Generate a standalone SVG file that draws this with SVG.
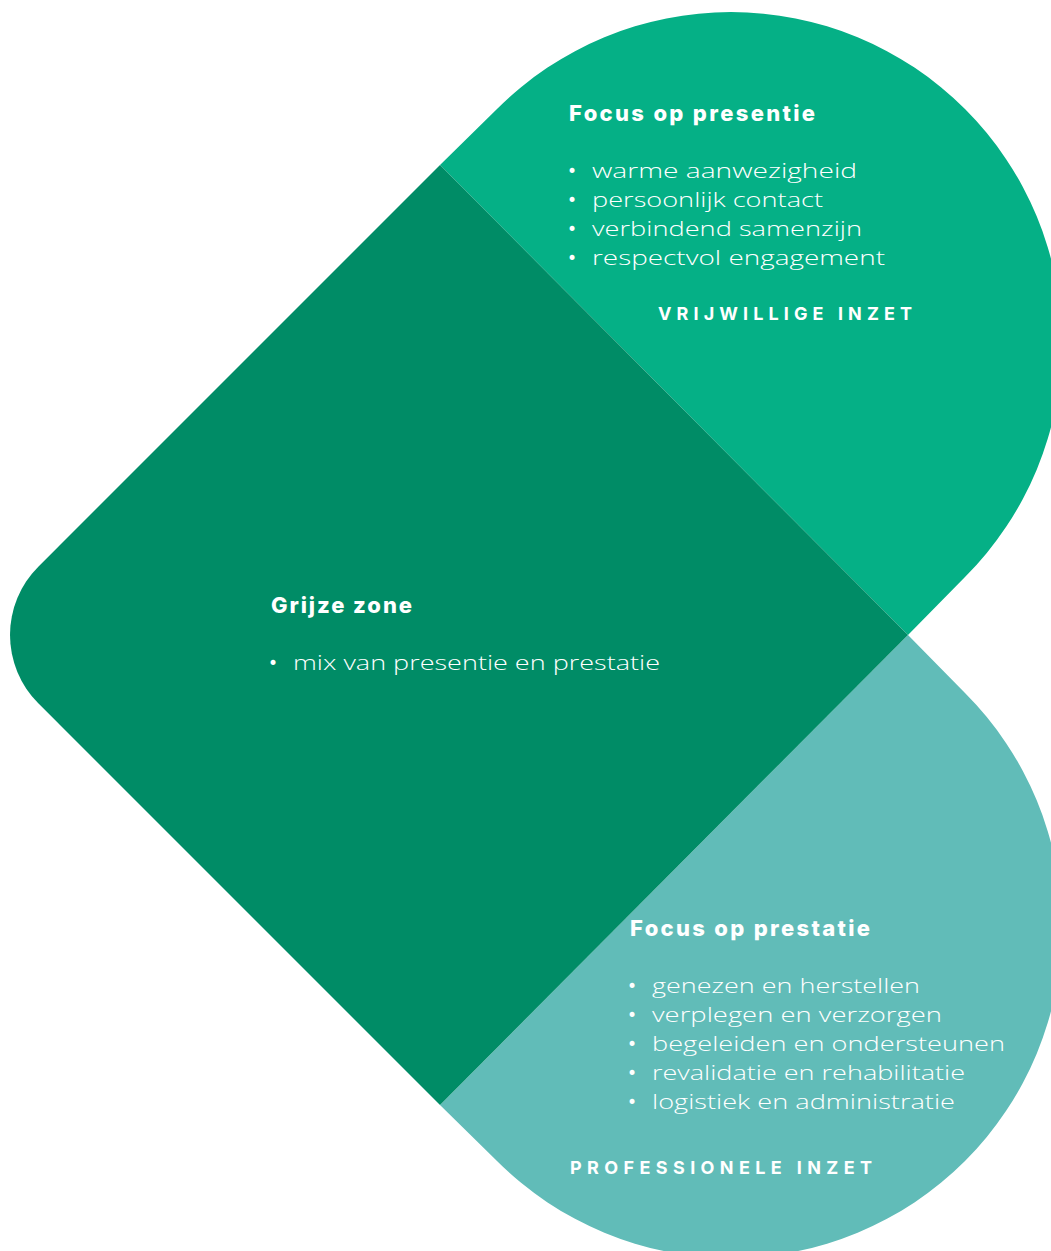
<svg xmlns="http://www.w3.org/2000/svg" width="1051" height="1251" viewBox="0 0 1051 1251">
<style>
text{font-variant-ligatures:none}
.h{font-family:Inter,"Liberation Sans",sans-serif;font-weight:800;font-size:22px;fill:#ffffff}
.b{font-family:"Open Sans","Liberation Sans",sans-serif;font-weight:300;font-size:21px;fill:#ffffff}
.c{font-family:Inter,"Liberation Sans",sans-serif;font-weight:700;font-size:18px;fill:#ffffff;letter-spacing:4px}
.dot{font-family:"DejaVu Sans",sans-serif;font-size:17px;fill:#ffffff}
</style>
<rect width="1051" height="1251" fill="#ffffff"/>
<g id="lobe-vrijwillig">
<path d="M440,165 L497,109 A331,331 0 0 1 965,109 A331,331 0 0 1 965,577 L908,635 Z" fill="#05B086"/>
<text class="h" x="569" y="121" textLength="246">Focus op presentie</text>
<text class="dot" x="567" y="177">•</text>
<text class="b" x="592" y="178" textLength="265" lengthAdjust="spacingAndGlyphs">warme aanwezigheid</text>
<text class="dot" x="567" y="206">•</text>
<text class="b" x="592" y="207" textLength="231" lengthAdjust="spacingAndGlyphs">persoonlijk contact</text>
<text class="dot" x="567" y="235">•</text>
<text class="b" x="592" y="236" textLength="270" lengthAdjust="spacingAndGlyphs">verbindend samenzijn</text>
<text class="dot" x="567" y="264">•</text>
<text class="b" x="592" y="265" textLength="293" lengthAdjust="spacingAndGlyphs">respectvol engagement</text>
<text class="c" x="658" y="320" textLength="258">VRIJWILLIGE INZET</text>
</g>
<g id="lobe-professioneel">
<path d="M908,635 L965,693 A331,331 0 0 1 965,1161 A331,331 0 0 1 497,1161 L440,1105 Z" fill="#61BCB8"/>
<text class="h" x="630" y="936" textLength="240">Focus op prestatie</text>
<text class="dot" x="627" y="992">•</text>
<text class="b" x="652" y="993" textLength="268" lengthAdjust="spacingAndGlyphs">genezen en herstellen</text>
<text class="dot" x="627" y="1021">•</text>
<text class="b" x="652" y="1022" textLength="290" lengthAdjust="spacingAndGlyphs">verplegen en verzorgen</text>
<text class="dot" x="627" y="1050">•</text>
<text class="b" x="652" y="1051" textLength="353" lengthAdjust="spacingAndGlyphs">begeleiden en ondersteunen</text>
<text class="dot" x="627" y="1079">•</text>
<text class="b" x="652" y="1080" textLength="313" lengthAdjust="spacingAndGlyphs">revalidatie en rehabilitatie</text>
<text class="dot" x="627" y="1108">•</text>
<text class="b" x="652" y="1109" textLength="303" lengthAdjust="spacingAndGlyphs">logistiek en administratie</text>
<text class="c" x="570" y="1174" textLength="306">PROFESSIONELE INZET</text>
</g>
<g id="grijze-zone">
<path d="M440,165 L908,635 L440,1105 L38.3,703.3 A96.6,96.6 0 0 1 38.3,566.7 Z" fill="#008C66"/>
<text class="h" x="271" y="613" textLength="141">Grijze zone</text>
<text class="dot" x="268" y="669">•</text>
<text class="b" x="293" y="670" textLength="367" lengthAdjust="spacingAndGlyphs">mix van presentie en prestatie</text>
</g>
</svg>
